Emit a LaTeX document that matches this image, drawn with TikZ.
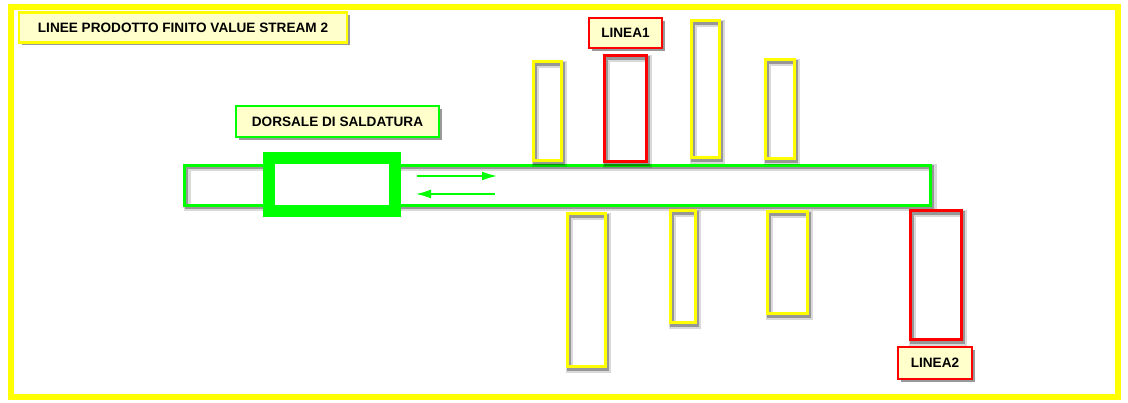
\documentclass[tikz,border=0pt]{standalone}
\usepackage{fontspec}
\setmainfont{Liberation Sans}
\usetikzlibrary{shadows,arrows.meta}
\definecolor{pyel}{RGB}{255,255,0}
\definecolor{pgreen}{RGB}{0,255,0}
\definecolor{pred}{RGB}{255,0,0}
\definecolor{lbfill}{RGB}{255,255,204}
\tikzset{
  outl/.style={draw=#1, line width=3pt, inner sep=0pt, outer sep=0pt,
    preaction={draw=black, opacity=0.15, line width=7pt, transform canvas={shift={(2.5pt,-2.5pt)}}},
    preaction={draw=black, opacity=0.3, line width=3.5pt, transform canvas={shift={(2pt,-2pt)}}}},
  lbox/.style={draw=#1, line width=2.5pt, fill=lbfill, inner sep=0pt, outer sep=0pt,
    font=\bfseries\fontsize{13.6}{13.6}\selectfont, text=black,
    drop shadow={shadow xshift=3pt, shadow yshift=-3pt, opacity=0.4, fill=black}},
  flow/.style={pgreen, line width=1.5pt, -{Latex[length=15pt,width=9pt]}},
}
\begin{document}
\begin{tikzpicture}[x=1pt,y=-1pt]
\useasboundingbox (0,0) rectangle (1128,403);
\fill[white] (0,0) rectangle (1128,403);
% outer frame
\draw[pyel, line width=6pt] (11,7) rectangle (1118,397);
% title
\node[lbox=pyel, minimum width=328pt, minimum height=30pt] (title) at (183,27.5) {LINEE PRODOTTO FINITO VALUE STREAM 2};
% dorsale label
\node[lbox=pgreen, minimum width=203pt, minimum height=31pt] (dorsale) at (337.5,121.5) {DORSALE DI SALDATURA};
% main bar
\node[outl=pgreen, minimum width=746pt, minimum height=40pt] (bar) at (557.5,185.25) {};
% welding station
\node[outl=pgreen, line width=12pt, fill=white, minimum width=126pt, minimum height=52.5pt] (weld) at (331.5,184.75) {};
% flow arrows
\coordinate (a1) at (417,176);
\coordinate (a2) at (497,176);
\coordinate (b1) at (495,194);
\coordinate (b2) at (416,194);
\draw[flow] (a1) -- (a2);
\draw[flow] (b1) -- (b2);
% top lines
\node[outl=pyel, minimum width=28pt, minimum height=99pt] (t1) at (547,111.5) {};
\node[outl=pred, minimum width=42pt, minimum height=106pt] (t2) at (625,109) {};
\node[outl=pyel, minimum width=28pt, minimum height=137pt] (t3) at (705,89.5) {};
\node[outl=pyel, minimum width=29pt, minimum height=99pt] (t4) at (779.5,109.5) {};
% bottom lines
\node[outl=pyel, minimum width=38pt, minimum height=153pt] (b1n) at (586,290.5) {};
\node[outl=pyel, minimum width=25pt, minimum height=112pt] (b2n) at (682.5,267) {};
\node[outl=pyel, minimum width=40pt, minimum height=102pt] (b3n) at (787,263) {};
\node[outl=pred, minimum width=51pt, minimum height=129pt] (b4n) at (935.5,275.5) {};
% line labels
\node[lbox=pred, minimum width=73pt, minimum height=30pt] (l1) at (625.5,33) {LINEA1};
\node[lbox=pred, minimum width=74pt, minimum height=32pt] (l2) at (935,363) {LINEA2};
\end{tikzpicture}
\end{document}
